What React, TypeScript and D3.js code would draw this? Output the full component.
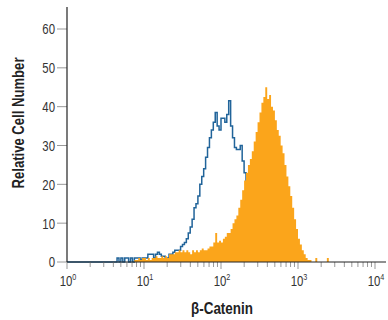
import * as d3 from "d3";

// histogram channels: log10 start and width of each bin
const binStart = 0.6;
const binStep = 0.025;

// isotype control (outline)
const isotypeCounts = [
  0, 0,
  1, 0, 1, 0, 1, 1, 0, 1, 0, 1,
  1, 1, 0.5, 1, 1, 1, 2,
  2, 2, 1,
  2, 2.5, 2,
  1.5, 1.5, 1,
  1, 2, 2,
  2.5, 3, 3,
  3, 4,
  4.5, 5, 6, 7.5,
  9, 11, 14, 15, 17,
  20, 22, 24, 27, 29.5,
  32, 34, 36, 38.5, 35,
  34, 37, 37, 36, 38,
  41.5, 35, 32, 29.5, 29,
  29, 30, 26, 23, 19,
  15, 11, 8, 5, 3,
  2, 1, 0.5,
];

// beta-catenin stained (filled)
const stainedCounts = [
  0, 0, 0, 0, 0, 0, 0, 0, 0, 0, 0,
  0.5, 0.5, 1, 0.5,
  1, 1, 0.5,
  1, 0.5, 1,
  1, 1.5, 1,
  1, 1.5, 1,
  1.5, 1, 2,
  2, 2, 2.5,
  2.5, 3, 2.5,
  3, 2.5, 3,
  2.5, 2, 3,
  2.5, 3, 2.5,
  3, 3.5, 3,
  3, 3.5, 4,
  4, 5, 7.5,
  5, 5.5, 5,
  6, 6.5, 7.5,
  7.5, 8.5, 10, 11, 12,
  14, 16, 18.5, 21, 23,
  25, 26.5, 28.5, 31, 33.5,
  36, 38.5, 41, 42.5, 45,
  42, 43, 40, 39, 36.5,
  34, 32.5, 30, 28, 25,
  22, 19.5, 17, 14, 11,
  8.5, 6, 4.5, 3, 2,
  1, 0.5, 0.5, 0, 0,
  1, 0, 0, 0, 0, 0, 1,
];

const yTicks = [0, 10, 20, 30, 40, 50, 60];
const decades = [0, 1, 2, 3, 4];

const W = 388;
const H = 320;
const font = "'Liberation Sans', Arial, sans-serif";
const squeeze = 0.76;

type Pt = { x: number; v: number };

const toPoints = (counts: number[]): Pt[] => {
  const pts = counts.map((v, i) => ({ x: Math.pow(10, binStart + i * binStep), v }));
  const end = Math.pow(10, binStart + counts.length * binStep);
  pts.push({ x: end, v: 0 });
  return pts;
};

const App = () => {
  const x = d3.scaleLog().domain([1, 1e4]).range([67, 375]);
  const y = d3.scaleLinear().domain([0, 60]).range([262, 29]);

  const line = d3
    .line<Pt>()
    .x((d) => x(d.x))
    .y((d) => y(d.v))
    .curve(d3.curveStepAfter);

  const area = d3
    .area<Pt>()
    .x((d) => x(d.x))
    .y0(y(0))
    .y1((d) => y(d.v))
    .curve(d3.curveStepAfter);

  const isoPts = toPoints(isotypeCounts);
  const stPts = toPoints(stainedCounts);

  const minor: number[] = [];
  decades.slice(0, -1).forEach((d) => {
    for (let k = 2; k <= 9; k++) minor.push(k * Math.pow(10, d));
  });

  return (
    <svg
      width={W}
      height={H}
      style={{ position: "absolute", left: 0, top: 0, background: "#fff" }}
    >
      <path
        d={line([{ x: 1, v: 0 }, ...isoPts]) ?? ""}
        fill="none"
        stroke="#21649a"
        strokeWidth={1.5}
      />
      <path d={area(stPts) ?? ""} fill="#fba51b" />

      {/* y axis */}
      {yTicks.map((t) => (
        <g key={t}>
          <line x1={57} x2={67} y1={y(t)} y2={y(t)} stroke="#999" strokeWidth={1} />
          <text
            transform={`translate(55, ${y(t)}) scale(${squeeze}, 1)`}
            dy="0.36em"
            textAnchor="end"
            fontFamily={font}
            fontSize={15}
            fill="#333"
          >
            {t}
          </text>
        </g>
      ))}
      <line x1={67} x2={67} y1={7} y2={262} stroke="#222" strokeWidth={1.2} />

      {/* x axis */}
      {minor.map((m) => (
        <line key={m} x1={x(m)} x2={x(m)} y1={262} y2={267} stroke="#999" strokeWidth={1} />
      ))}
      {decades.map((d) => (
        <g key={d}>
          <line
            x1={x(Math.pow(10, d))}
            x2={x(Math.pow(10, d))}
            y1={262}
            y2={269}
            stroke="#999"
            strokeWidth={1}
          />
          <text
            transform={`translate(${x(Math.pow(10, d)) + 1}, 286) scale(${squeeze}, 1)`}
            textAnchor="middle"
            fontFamily={font}
            fontSize={15}
            fill="#333"
          >
            10
            <tspan fontSize={9.5} dy={-6}>
              {d}
            </tspan>
          </text>
        </g>
      ))}
      <line x1={67} x2={386} y1={262} y2={262} stroke="#222" strokeWidth={1.2} />

      <text
        transform="translate(24, 123) rotate(-90)"
        textAnchor="middle"
        fontFamily={font}
        fontWeight="bold"
        fontSize={17}
        fill="#222"
        textLength={131}
        lengthAdjust="spacingAndGlyphs"
      >
        Relative Cell Number
      </text>
      <text
        x={222}
        y={314}
        textAnchor="middle"
        fontFamily={font}
        fontWeight="bold"
        fontSize={17}
        fill="#222"
        textLength={62}
        lengthAdjust="spacingAndGlyphs"
      >
        β-Catenin
      </text>
    </svg>
  );
};

export default App;
